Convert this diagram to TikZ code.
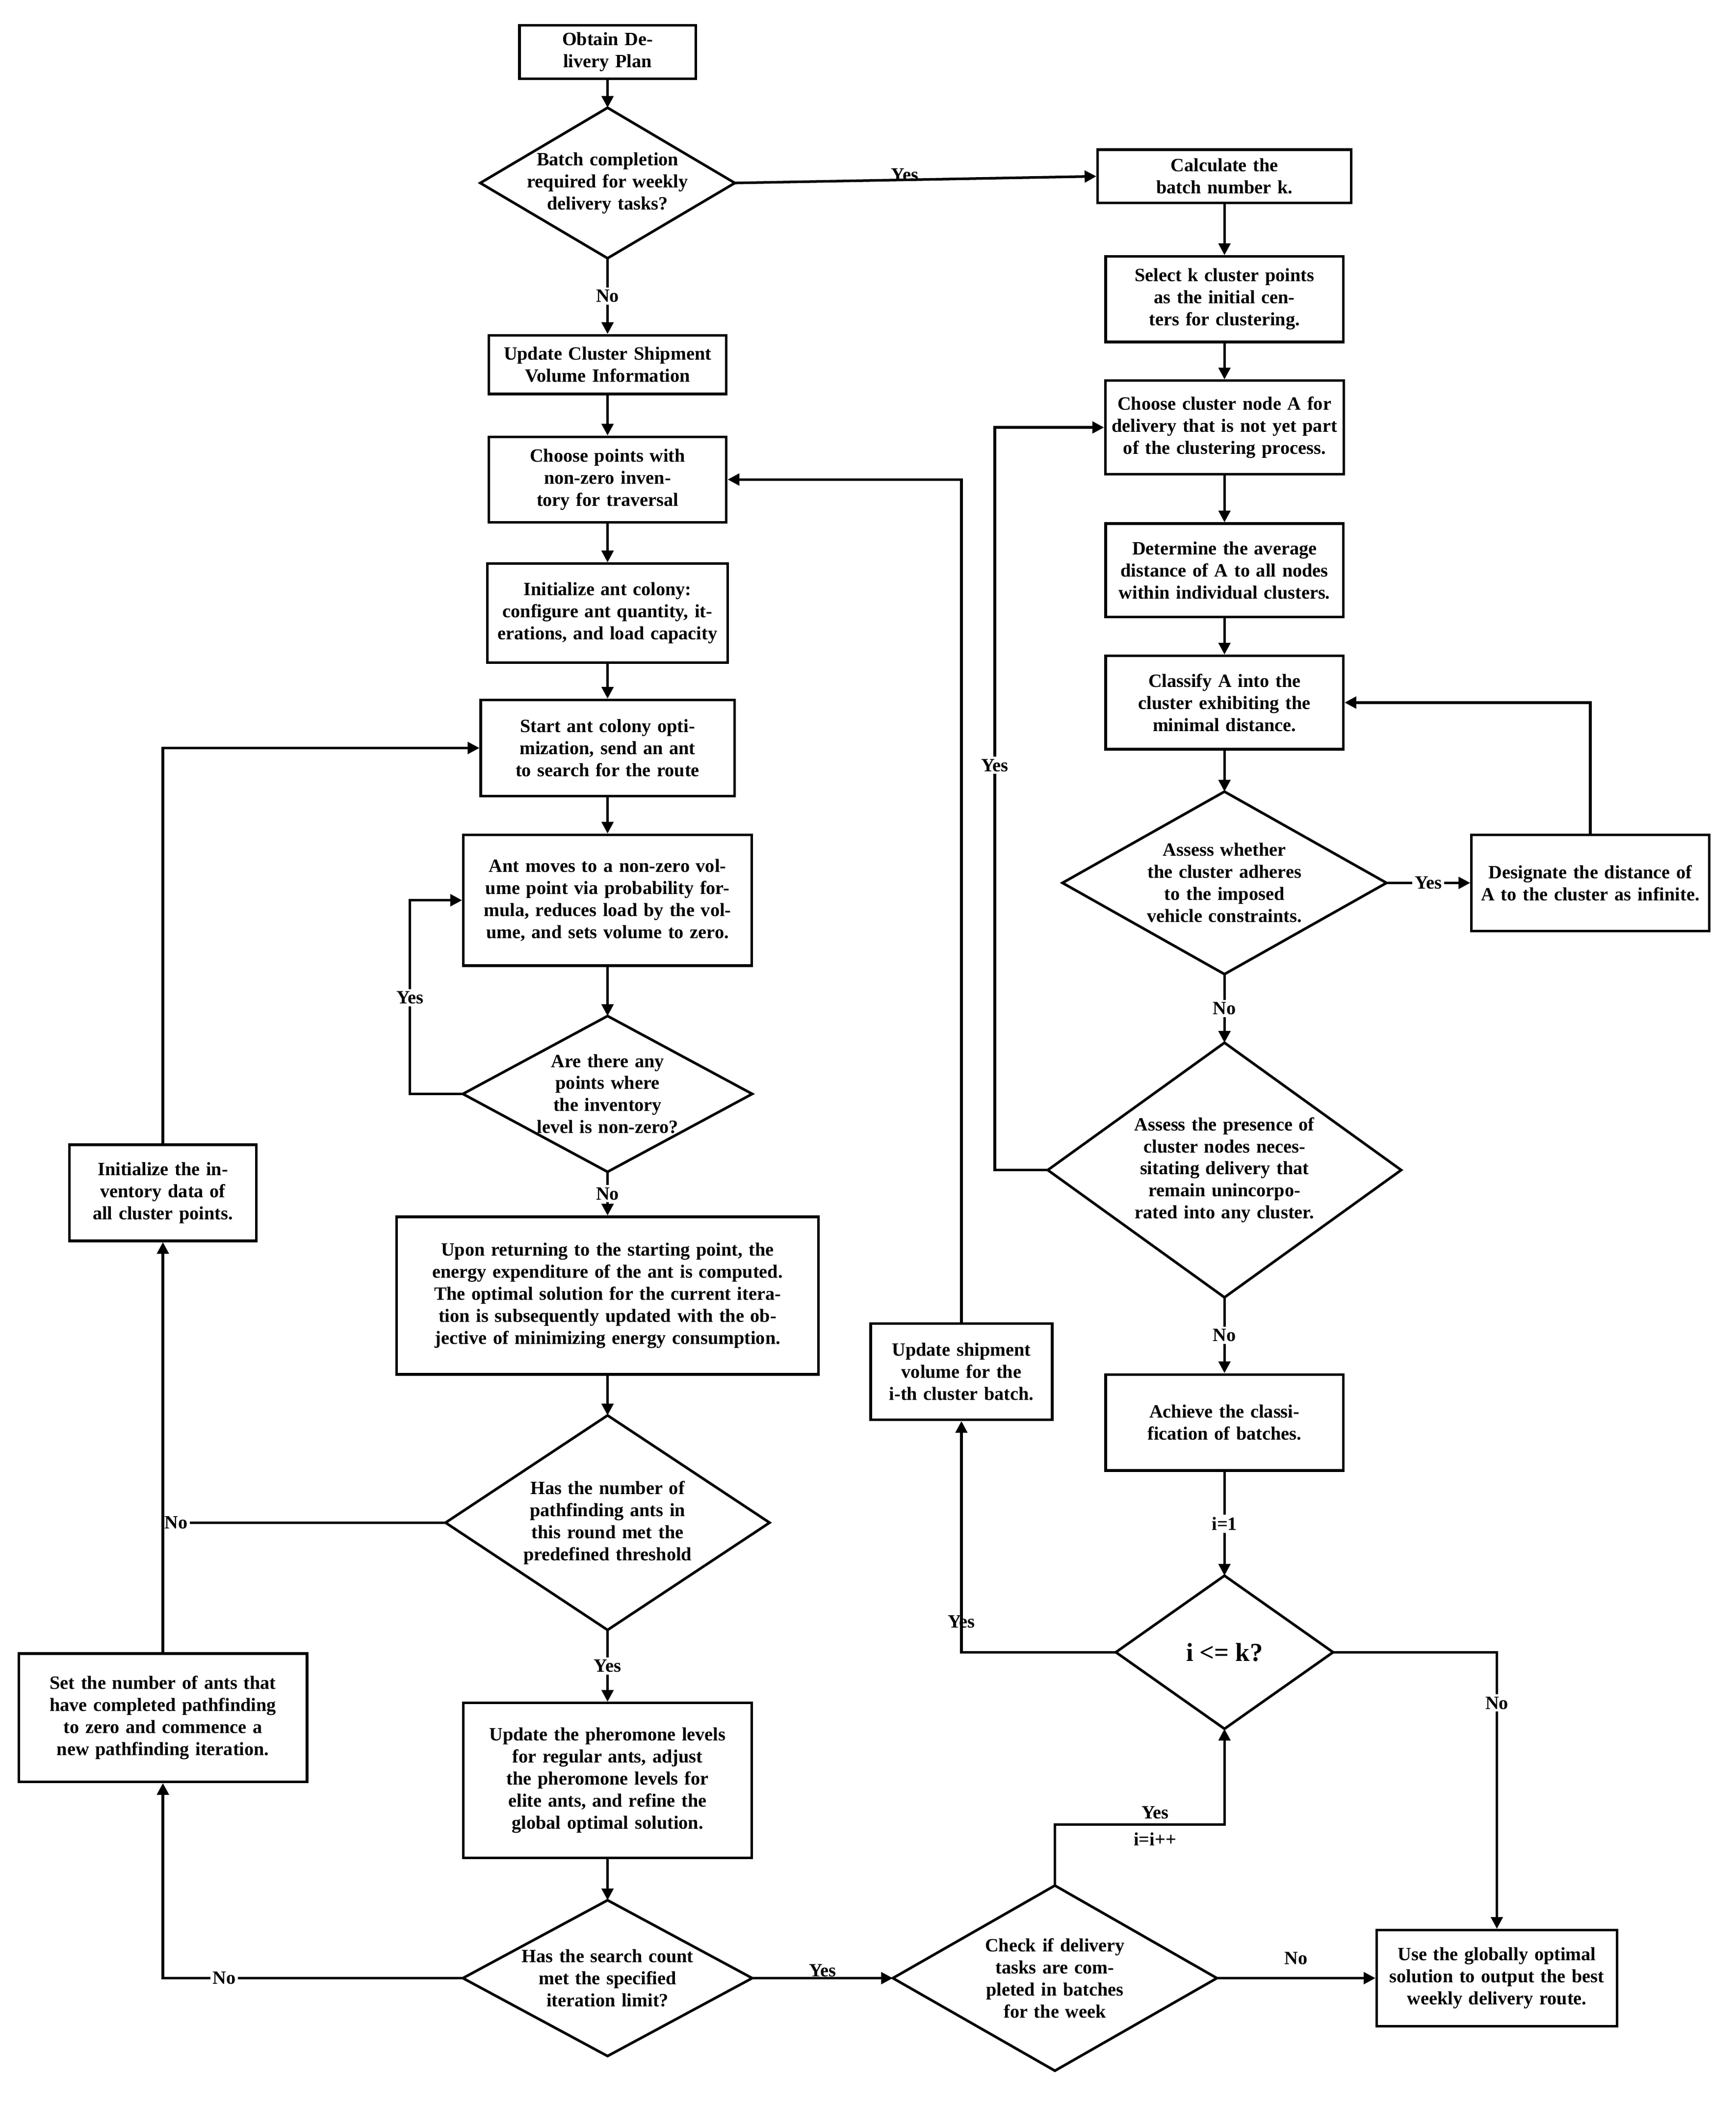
\documentclass[tikz,border=0pt]{standalone}
\usepackage{fontspec}
\setmainfont{Liberation Serif}
\usetikzlibrary{arrows.meta}
\begin{document}
\begin{tikzpicture}[x=0.02cm,y=-0.02cm,
  every node/.style={font=\bfseries\fontsize{8}{9.4}\selectfont},
  box/.style={draw,line width=1.1pt,align=center,inner sep=1pt},
  dm/.style={inner sep=0pt,align=center},
  arr/.style={line width=1.1pt,-{Triangle[length=5pt,width=5pt]}},
  ln/.style={line width=1.1pt},
  lab/.style={fill=white,inner sep=1pt}]
\useasboundingbox (0,0) rectangle (1300,1574.5);
\newcommand{\dia}[1]{\draw[line width=1.1pt] (#1.north)--(#1.east)--(#1.south)--(#1.west)--cycle;}
% left column
\node[box,minimum width=2.64cm,minimum height=0.8cm,text width=2.4cm] (ob) at (455,39) {Obtain Delivery Plan};
\node[dm,minimum width=3.8cm,minimum height=2.24cm,text width=2.5cm] (d1) at (455,137) {Batch completion required for weekly delivery tasks?}; \dia{d1}
\node[box,minimum width=3.56cm,minimum height=0.88cm,text width=3.4cm] (uc) at (455,273) {Update Cluster Shipment Volume Information};
\node[box,minimum width=3.56cm,minimum height=1.28cm,text width=3.3cm] (cp) at (455,359) {Choose points with non-zero inventory for traversal};
\node[box,minimum width=3.6cm,minimum height=1.48cm,text width=3.3cm] (ia) at (455,459) {Initialize ant colony: configure ant quantity, iterations, and load capacity};
\node[box,minimum width=3.8cm,minimum height=1.44cm,text width=3.5cm] (st) at (455,560) {Start ant colony optimization, send an ant to search for the route};
\node[box,minimum width=4.32cm,minimum height=1.96cm,text width=3.9cm] (am) at (455,674) {Ant moves to a non-zero volume point via probability formula, reduces load by the volume, and sets volume to zero.};
\node[dm,minimum width=4.32cm,minimum height=2.32cm,text width=2.2cm] (d2) at (455,819) {Are there any points where the inventory level is non-zero?}; \dia{d2}
\node[box,minimum width=6.32cm,minimum height=2.36cm,text width=6.1cm] (up) at (455,970) {Upon returning to the starting point, the energy expenditure of the ant is computed. The optimal solution for the current iteration is subsequently updated with the objective of minimizing energy consumption.};
\node[dm,minimum width=4.84cm,minimum height=3.2cm,text width=2.6cm] (d3) at (455,1140) {Has the number of pathfinding ants in this round met the predefined threshold}; \dia{d3}
\node[box,minimum width=4.32cm,minimum height=2.32cm,text width=3.9cm] (ph) at (455,1333) {Update the pheromone levels for regular ants, adjust the pheromone levels for elite ants, and refine the global optimal solution.};
\node[dm,minimum width=4.32cm,minimum height=2.32cm,text width=2.9cm] (d4) at (455,1481) {Has the search count met the specified iteration limit?}; \dia{d4}
\node[box,minimum width=2.8cm,minimum height=1.44cm,text width=2.7cm] (ii) at (122,893) {Initialize the inventory data of all cluster points.};
\node[box,minimum width=4.32cm,minimum height=1.92cm,text width=4.0cm] (sa) at (122,1286) {Set the number of ants that have completed pathfinding to zero and commence a new pathfinding iteration.};
% right column
\node[box,minimum width=3.8cm,minimum height=0.8cm,text width=3.7cm] (ca) at (917,132) {Calculate the batch number k.};
\node[box,minimum width=3.56cm,minimum height=1.28cm,text width=3.3cm] (sk) at (917,224) {Select k cluster points as the initial centers for clustering.};
\node[box,minimum width=3.56cm,minimum height=1.4cm,text width=3.5cm] (cA) at (917,320) {Choose cluster node A for delivery that is not yet part of the clustering process.};
\node[box,minimum width=3.56cm,minimum height=1.4cm,text width=3.4cm] (de) at (917,427) {Determine the average distance of A to all nodes within individual clusters.};
\node[box,minimum width=3.56cm,minimum height=1.4cm,text width=3.4cm] (cl) at (917,526) {Classify A into the cluster exhibiting the minimal distance.};
\node[dm,minimum width=4.84cm,minimum height=2.72cm,text width=2.7cm] (d5) at (917,661) {Assess whether the cluster adheres to the imposed vehicle constraints.}; \dia{d5}
\node[box,minimum width=3.56cm,minimum height=1.44cm,text width=3.3cm] (ds) at (1191,661) {Designate the distance of A to the cluster as infinite.};
\node[dm,minimum width=5.28cm,minimum height=3.8cm,text width=3.2cm] (d6) at (917,876) {Assess the presence of cluster nodes necessitating delivery that remain unincorporated into any cluster.}; \dia{d6}
\node[box,minimum width=3.56cm,minimum height=1.44cm,text width=2.6cm] (ac) at (917,1065) {Achieve the classification of batches.};
\node[dm,minimum width=3.24cm,minimum height=2.28cm] (d7) at (917,1237) {\fontsize{11}{13}\selectfont i <= k?}; \dia{d7}
\node[box,minimum width=2.72cm,minimum height=1.44cm,text width=2.5cm] (us) at (720,1027) {Update shipment volume for the i-th cluster batch.};
\node[dm,minimum width=4.84cm,minimum height=2.76cm,text width=2.4cm] (d8) at (790,1481) {Check if delivery tasks are completed in batches for the week}; \dia{d8}
\node[box,minimum width=3.6cm,minimum height=1.44cm,text width=3.4cm] (ug) at (1121,1481) {Use the globally optimal solution to output the best weekly delivery route.};
% edges left
\draw[arr] (ob)--(d1);
\draw[arr] (d1.east)--(ca.west) node[lab,pos=0.47,above=-2pt,fill=none] {Yes};
\draw[arr] (d1.south)--(uc.north) node[lab,midway] {No};
\draw[arr] (uc)--(cp); \draw[arr] (cp)--(ia); \draw[arr] (ia)--(st); \draw[arr] (st)--(am); \draw[arr] (am)--(d2.north);
\draw[arr] (d2.west)--(307,819)--(307,674)--(am.west);
\node[lab] (y2) at (307,747) {Yes};
\draw[arr] (d2.south)--(up.north) node[lab,midway] {No};
\draw[arr] (up)--(d3.north);
\draw[ln] (d3.west)--(122,1140);
\node[lab] (n3) at (132,1140) {No};
\draw[arr] (ii.north)--(122,560)--(st.west);
\draw[arr] (d3.south)--(ph.north) node[lab,midway] {Yes};
\draw[arr] (ph)--(d4.north);
\draw[arr] (d4.west)--(122,1481)--(sa.south);
\node[lab] (n4) at (168,1481) {No};
\draw[arr] (sa.north)--(ii.south);
\draw[arr] (d4.east)--(d8.west) node[lab,midway,above=-1pt,fill=none] {Yes};
\draw[arr] (d8.east)--(ug.west) node[midway,above=2pt] {No};
\draw[arr] (d8.north)--(790,1366)--(917,1366)--(d7.south);
\node (y8) at (865,1357) {Yes};
\node (i8) at (865,1377) {i=i++};
\draw[arr] (d7.west)--(720,1237)--(us.south);
\node[lab,fill=none] (y7) at (720,1214) {Yes};
\draw[arr] (us.north)--(720,359)--(cp.east);
\draw[arr] (d7.east)--(1121,1237)--(ug.north);
\node[lab] (n7) at (1121,1275) {No};
\draw[arr] (ac)--(d7.north) node[lab,midway] {i=1};
% edges right
\draw[arr] (ca)--(sk); \draw[arr] (sk)--(cA); \draw[arr] (cA)--(de); \draw[arr] (de)--(cl); \draw[arr] (cl)--(d5.north);
\draw[arr] (d5.east)--(ds.west) node[lab,midway] {Yes};
\draw[arr] (ds.north)--(1191,526)--(cl.east);
\draw[arr] (d5.south)--(d6.north) node[lab,midway] {No};
\draw[arr] (d6.west)--(745,876)--(745,320)--(cA.west);
\node[lab] (y6) at (745,573) {Yes};
\draw[arr] (d6.south)--(ac.north) node[lab,midway] {No};
\end{tikzpicture}
\end{document}
